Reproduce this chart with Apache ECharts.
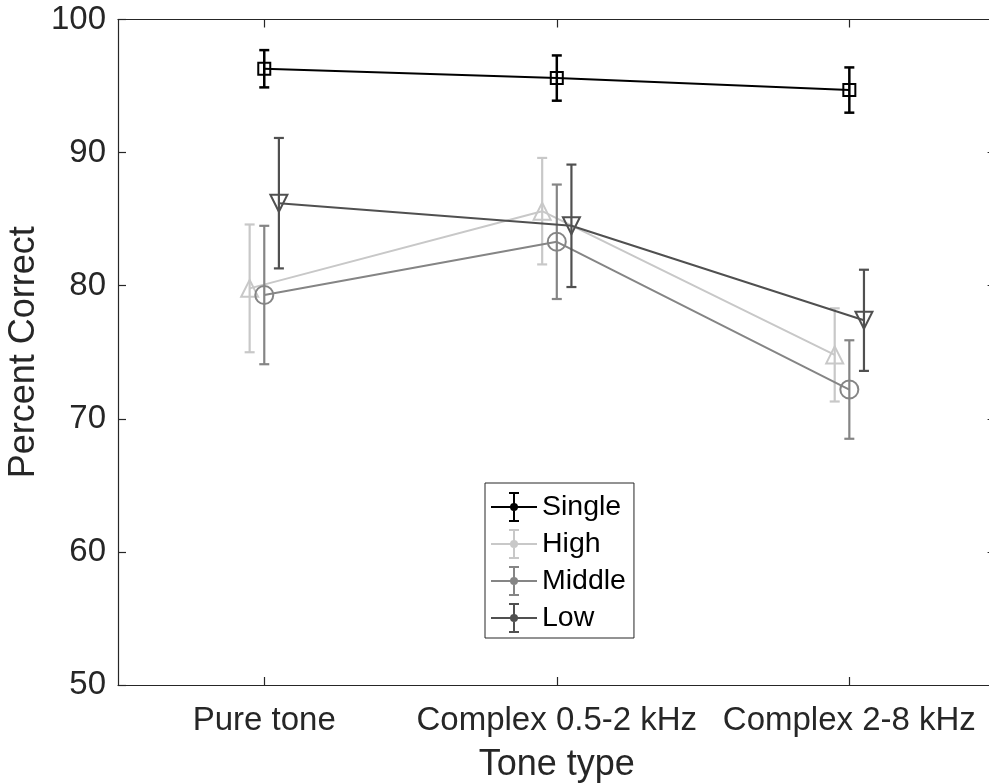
<!DOCTYPE html>
<html>
<head>
<meta charset="utf-8">
<script src="https://cdn.jsdelivr.net/npm/echarts@6/dist/echarts.min.js"></script>
<style>
html,body{margin:0;padding:0;background:#fff;}
#chart{width:989px;height:784px;}
</style>
</head>
<body>
<div id="chart"></div>
<script>
// ---- data ----
const categories = ['Pure tone', 'Complex 0.5-2 kHz', 'Complex 2-8 kHz'];
const seriesNames = ['Single', 'High', 'Middle', 'Low'];
const singleMean = [96.3, 95.6, 94.7];
const singleErr  = [1.4, 1.7, 1.7];
const highMean   = [79.8, 85.6, 74.8];
const highErr    = [4.8, 4.0, 3.5];
const middleMean = [79.3, 83.3, 72.2];
const middleErr  = [5.2, 4.3, 3.7];
const lowMean    = [86.2, 84.5, 77.4];
const lowErr     = [4.9, 4.6, 3.8];
const xShift     = [0, -0.05, 0, 0.05];   // horizontal dodge per series (in category units)
const yTicks = [50, 60, 70, 80, 90, 100];

// ---- styles ----
const colors  = ['#000000', '#c8c8c8', '#858585', '#505050'];
const symbols = ['rect', 'triangle', 'circle', 'triangle'];
const symSizes = [12, 17, 18, 17];
const symRot = [0, 0, 0, 180];
const means = [singleMean, highMean, middleMean, lowMean];
const errs  = [singleErr, highErr, middleErr, lowErr];
const FONT = 'Liberation Sans, Arial, Helvetica, sans-serif';
const AX = '#262626';

function errRender(color, lw, capHalf) {
  return function (params, api) {
    const x = api.value(0), lo = api.value(1), hi = api.value(2);
    const p1 = api.coord([x, hi]);
    const p2 = api.coord([x, lo]);
    const st = { stroke: color, lineWidth: lw, fill: null };
    return {
      type: 'group',
      children: [
        { type: 'line', shape: { x1: p1[0], y1: p1[1], x2: p2[0], y2: p2[1] }, style: st },
        { type: 'line', shape: { x1: p1[0] - capHalf, y1: p1[1], x2: p1[0] + capHalf, y2: p1[1] }, style: st },
        { type: 'line', shape: { x1: p2[0] - capHalf, y1: p2[1], x2: p2[0] + capHalf, y2: p2[1] }, style: st }
      ]
    };
  };
}

const series = [];
seriesNames.forEach((name, i) => {
  const m = means[i], e = errs[i];
  series.push({
    name: name + ' err',
    type: 'custom',
    renderItem: errRender(colors[i], i === 0 ? 2.5 : 2.2, 5),
    data: m.map((v, k) => [k + 1 + xShift[i], v - e[k], v + e[k]]),
    z: 2 + i * 2,
    silent: true
  });
  series.push({
    name: name,
    type: 'line',
    data: m.map((v, k) => [k + 1 + xShift[i], v]),
    symbol: symbols[i],
    symbolSize: symSizes[i],
    symbolRotate: symRot[i],
    showSymbol: true,
    lineStyle: { color: colors[i], width: 2 },
    itemStyle: { color: 'rgba(0,0,0,0)', borderColor: colors[i], borderWidth: 2 },
    z: 3 + i * 2,
    animation: false
  });
});

const legendIcon = 'path://M0 14H46V16H0Z M22 2H24V28H22Z M18 0H28V2H18Z M18 28H28V30H18Z M19 15A4 4 0 1 1 27 15A4 4 0 1 1 19 15Z';

const option = {
  animation: false,
  backgroundColor: '#ffffff',
  grid: { left: 118, top: 19.5, width: 877.6, height: 665.5, containLabel: false, outerBoundsMode: 'none' },
  xAxis: [{
    type: 'value', min: 0.5, max: 3.5,
    name: 'Tone type', nameLocation: 'middle', nameGap: 62,
    nameTextStyle: { fontFamily: FONT, fontSize: 36, color: AX },
    axisLine: { show: true, onZero: false, lineStyle: { color: AX, width: 1.2 } },
    axisTick: { show: true, inside: true, length: 8, customValues: [1, 2, 3], lineStyle: { color: AX, width: 1.2 } },
    axisLabel: { show: true, margin: 19, customValues: [1, 2, 3], fontFamily: FONT, fontSize: 33, color: AX,
      formatter: v => categories[Math.round(v) - 1] || '' },
    splitLine: { show: false }
  }, {
    type: 'value', min: 0.5, max: 3.5, position: 'top',
    axisLine: { show: true, onZero: false, lineStyle: { color: AX, width: 1.2 } },
    axisTick: { show: true, inside: true, length: 8, customValues: [1, 2, 3], lineStyle: { color: AX, width: 1.2 } },
    axisLabel: { show: false },
    splitLine: { show: false }
  }],
  yAxis: [{
    type: 'value', min: 50, max: 100, interval: 10,
    name: 'Percent Correct', nameLocation: 'middle', nameGap: 76, nameMoveOverlap: false,
    nameTextStyle: { fontFamily: FONT, fontSize: 36, color: AX },
    axisLine: { show: true, onZero: false, lineStyle: { color: AX, width: 1.2 } },
    axisTick: { show: true, inside: true, length: 8, customValues: yTicks, lineStyle: { color: AX, width: 1.2 } },
    axisLabel: { show: true, margin: 12, customValues: yTicks, fontFamily: FONT, fontSize: 33, color: AX },
    splitLine: { show: false }
  }, {
    type: 'value', min: 50, max: 100, interval: 10, position: 'right',
    axisLine: { show: true, onZero: false, lineStyle: { color: AX, width: 1.2 } },
    axisTick: { show: true, inside: true, length: 8, lineStyle: { color: AX, width: 1.2 } },
    axisLabel: { show: false },
    splitLine: { show: false }
  }],
  legend: {
    orient: 'vertical',
    left: 485, top: 483,
    padding: [9, 8, 5, 6],
    itemGap: 7,
    itemWidth: 46, itemHeight: 30,
    backgroundColor: '#ffffff',
    borderColor: AX, borderWidth: 1,
    textStyle: { fontFamily: FONT, fontSize: 28.5, color: '#000000', padding: [0, 0, 0, 0] },
    data: seriesNames.map((n, i) => ({
      name: n, icon: legendIcon,
      itemStyle: { color: colors[i], borderWidth: 0 }
    })),
    selectedMode: false
  },
  series: series
};

const chart = echarts.init(document.getElementById('chart'), null, { renderer: 'canvas' });
chart.setOption(option);
</script>
</body>
</html>
